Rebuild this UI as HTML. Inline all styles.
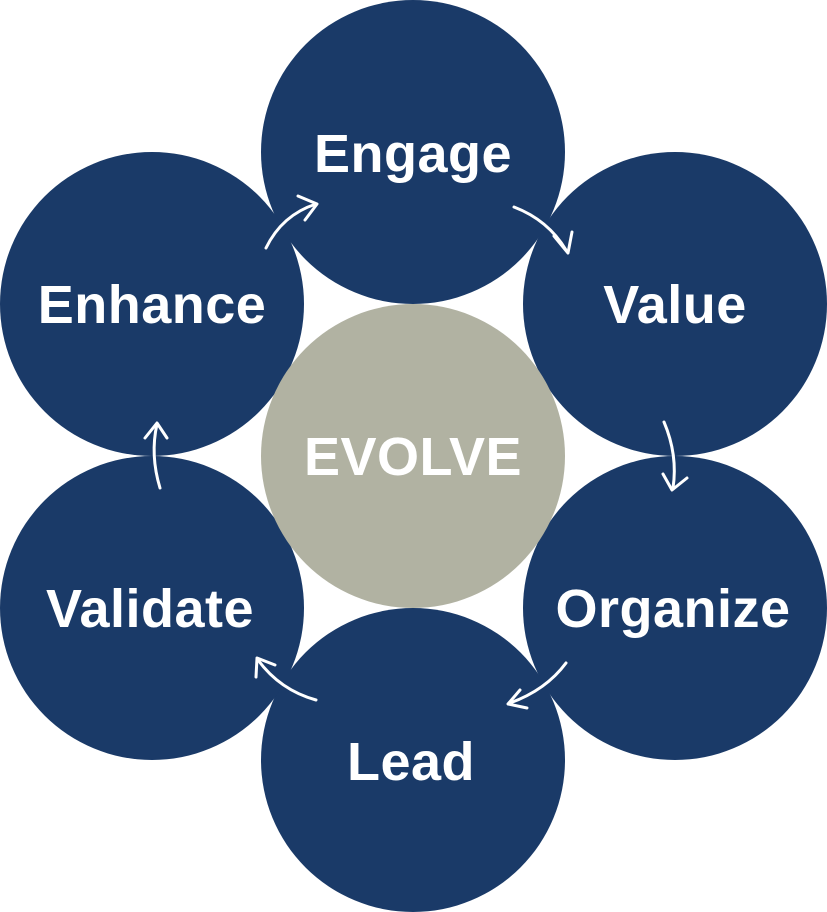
<!DOCTYPE html>
<html><head><style>
html,body{margin:0;padding:0;background:#fff;}
svg{display:block;}
text{font-family:"Liberation Sans",sans-serif;font-weight:bold;fill:#fff;text-anchor:middle;}
</style></head><body>
<svg width="827" height="912" viewBox="0 0 827 912">
<g fill="#1a3a68">
<circle cx="413" cy="152" r="152"/>
<circle cx="675" cy="304" r="152"/>
<circle cx="675" cy="608" r="152"/>
<circle cx="413" cy="760" r="152"/>
<circle cx="152" cy="608" r="152"/>
<circle cx="152" cy="304" r="152"/>
</g>
<circle cx="413" cy="456" r="152" fill="#b1b2a2"/>
<g font-size="54" letter-spacing="0.5">
<text x="413" y="172">Engage</text>
<text x="675" y="323">Value</text>
<text x="673" y="627">Organize</text>
<text x="411" y="780">Lead</text>
<text x="150" y="627">Validate</text>
<text x="152" y="323">Enhance</text>
<text x="413" y="475">EVOLVE</text>
</g>
<g fill="none" stroke="#fff" stroke-width="3" stroke-linecap="round" stroke-linejoin="round">
<path d="M514,207 Q548,220 566,250"/>
<path d="M554,236 L568,253 L572,232"/>
<path d="M664,422 Q678,455 673,488"/>
<path d="M663,474 L672,490 L687,478"/>
<path d="M566,663 Q546,690 510,703"/>
<path d="M520,690 L508,704 L527,708"/>
<path d="M316,700 Q280,690 258,660"/>
<path d="M256,677 L257,658 L275,665"/>
<path d="M160,488 Q150,455 157,424"/>
<path d="M145,438 L157,423 L167,438"/>
<path d="M266,248 Q282,215 316,204"/>
<path d="M298,196 L317,204 L305,220"/>
</g>
</svg>
</body></html>
